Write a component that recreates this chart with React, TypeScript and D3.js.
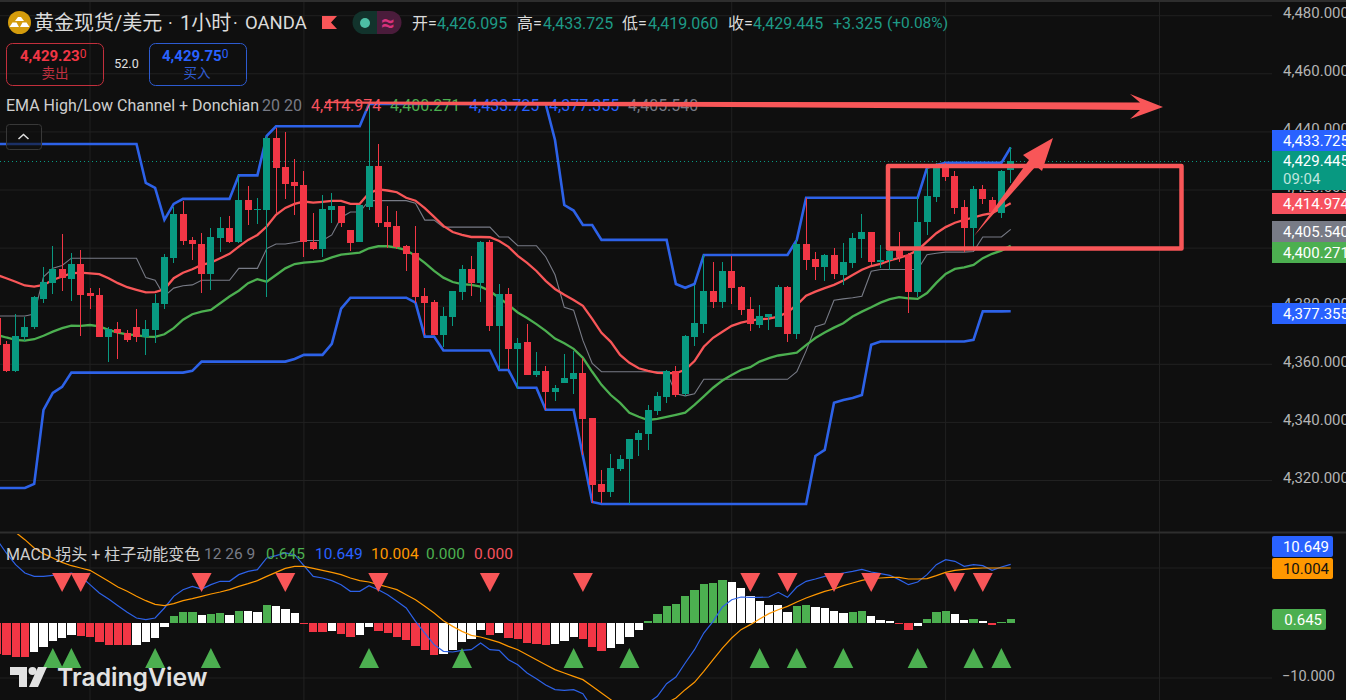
import React from 'react';
import * as d3 from 'd3';

// hourly gold candles, left to right
const open = [4375.0,4366.1,4356.8,4368.5,4371.9,4381.6,4387.1,4391.9,4388.5,4393.6,4383.6,4382.9,4368.5,4371.2,4369.9,4371.9,4368.5,4370.9,4379.9,4395.7,4410.8,4401.9,4400.5,4390.2,4402.6,4406.0,4401.2,4415.7,4412.2,4412.2,4437.0,4427.0,4421.9,4420.8,4401.2,4398.8,4412.2,4413.6,4405.3,4401.2,4413.2,4427.4,4408.1,4406.7,4399.8,4397.4,4382.6,4380.5,4369.2,4375.4,4384.0,4391.9,4387.1,4401.2,4372.3,4383.3,4364.4,4366.8,4355.4,4356.8,4349.6,4352.7,4354.0,4356.1,4340.6,4317.9,4315.2,4323.1,4326.5,4333.0,4335.1,4343.0,4347.9,4356.8,4348.9,4368.5,4373.0,4384.3,4380.5,4391.2,4385.7,4378.1,4372.6,4375.4,4371.9,4385.7,4369.5,4400.5,4395.4,4392.6,4396.7,4389.8,4394.0,4402.2,4404.6,4394.3,4395.0,4398.4,4396.7,4384.0,4408.1,4416.7,4426.7,4423.9,4413.2,4406.0,4419.4,4415.7,4411.2,4426.095];
const high = [4375.7,4367.1,4376.4,4375.4,4382.6,4392.6,4399.8,4403.9,4397.4,4398.4,4385.4,4385.4,4371.9,4373.7,4370.9,4378.1,4374.4,4383.3,4397.1,4413.2,4415.3,4402.9,4404.3,4406.0,4409.8,4410.2,4424.3,4420.5,4416.4,4437.7,4440.4,4439.1,4429.8,4425.6,4411.2,4417.4,4418.1,4413.6,4405.3,4413.9,4448.7,4434.9,4413.6,4411.9,4400.2,4406.7,4385.4,4381.2,4378.8,4384.3,4393.3,4396.4,4401.5,4401.9,4386.7,4385.4,4368.2,4373.0,4363.3,4358.5,4352.0,4362.6,4363.7,4361.3,4340.6,4322.7,4328.2,4327.9,4333.4,4336.5,4345.1,4349.6,4357.2,4358.5,4369.2,4386.4,4396.7,4394.3,4394.3,4396.4,4386.1,4382.3,4379.5,4376.4,4386.4,4386.1,4401.9,4416.4,4397.8,4397.1,4399.1,4400.9,4404.3,4410.8,4404.6,4400.2,4399.8,4404.6,4397.4,4416.7,4426.7,4428.4,4428.4,4425.6,4415.7,4420.5,4420.8,4416.7,4426.0,4433.725];
const low = [4365.7,4356.5,4356.5,4367.1,4371.2,4380.2,4383.3,4384.3,4380.9,4368.8,4378.1,4368.5,4359.9,4360.9,4366.8,4366.8,4362.3,4366.4,4378.1,4394.0,4400.2,4395.0,4383.6,4384.7,4397.8,4400.9,4400.9,4407.1,4407.4,4382.3,4411.2,4416.0,4410.5,4396.0,4398.5,4396.0,4407.7,4406.4,4398.1,4401.2,4412.2,4406.4,4399.1,4398.8,4391.2,4380.2,4369.2,4369.2,4365.1,4372.3,4381.2,4382.6,4380.5,4370.6,4357.1,4357.5,4350.6,4355.4,4354.7,4343.4,4346.5,4352.7,4348.9,4327.9,4311.4,4311.4,4313.4,4322.4,4311.0,4327.5,4329.6,4341.7,4345.8,4347.9,4348.2,4365.4,4369.9,4378.5,4378.5,4379.9,4376.1,4370.6,4371.6,4370.9,4371.9,4366.8,4367.8,4391.6,4388.1,4387.8,4388.5,4386.4,4392.3,4395.7,4393.3,4392.3,4391.6,4394.3,4376.8,4382.3,4403.6,4415.0,4422.2,4410.8,4397.8,4399.1,4414.3,4411.2,4409.5,4421.5];
const close = [4365.7,4356.8,4368.8,4371.9,4382.3,4387.4,4391.9,4388.8,4393.6,4382.9,4382.6,4368.5,4371.2,4369.9,4367.5,4368.5,4371.2,4380.2,4396.0,4410.8,4401.5,4400.5,4390.2,4402.9,4406.0,4401.2,4415.7,4412.2,4412.6,4437.0,4426.7,4421.2,4420.5,4401.2,4398.8,4412.6,4413.6,4407.7,4400.9,4413.9,4427.4,4407.7,4406.4,4399.5,4397.1,4382.3,4380.2,4369.2,4375.7,4384.3,4391.9,4387.1,4401.2,4372.3,4383.3,4364.4,4366.4,4355.4,4356.8,4349.6,4350.9,4354.4,4356.1,4340.3,4317.6,4315.2,4323.4,4326.5,4333.4,4335.5,4343.4,4348.2,4356.8,4348.5,4368.8,4373.3,4384.3,4380.5,4391.2,4385.4,4377.8,4373.0,4375.7,4376.4,4385.7,4369.5,4400.5,4395.0,4392.6,4396.7,4390.2,4394.3,4402.6,4404.6,4394.3,4395.0,4398.1,4396.0,4384.0,4408.1,4417.0,4426.7,4423.6,4412.9,4406.0,4419.4,4416.0,4411.5,4425.6,4428.9];

// EMA High/Low channel
const emaHigh = [4389.8,4388.7,4387.5,4386.2,4385.8,4386.4,4388.1,4389.3,4390.4,4390.6,4390.4,4390.1,4388.7,4387.0,4385.6,4384.7,4383.8,4383.9,4384.9,4388.7,4390.6,4391.8,4393.3,4394.1,4395.6,4397.1,4399.6,4401.9,4403.6,4406.5,4410.5,4412.9,4414.3,4415.1,4414.7,4415.0,4415.3,4415.3,4414.3,4414.3,4418.0,4419.3,4418.9,4418.3,4416.4,4415.4,4412.8,4409.8,4406.7,4404.6,4403.6,4402.9,4402.9,4402.8,4401.5,4399.5,4396.4,4394.0,4391.2,4387.8,4385.0,4383.0,4381.2,4379.2,4374.7,4369.9,4366.8,4362.3,4359.6,4357.7,4356.8,4356.1,4356.0,4356.0,4357.2,4360.2,4365.1,4368.2,4370.3,4372.3,4373.4,4374.1,4374.6,4374.8,4375.5,4377.0,4379.5,4382.7,4384.1,4385.3,4386.4,4387.9,4389.8,4391.6,4392.9,4393.6,4394.8,4395.7,4396.7,4398.4,4401.3,4404.2,4406.3,4407.8,4408.8,4409.6,4410.5,4411.1,4412.8,4414.5];
const emaLow = [4369.2,4368.3,4367.5,4367.2,4367.7,4368.9,4370.3,4371.5,4372.4,4372.3,4372.6,4372.1,4370.9,4370.0,4369.4,4369.1,4368.6,4368.5,4369.4,4371.5,4374.4,4376.3,4377.2,4377.8,4380.1,4382.4,4384.4,4387.0,4388.4,4387.5,4389.8,4392.1,4393.6,4394.1,4394.3,4394.7,4395.9,4396.8,4397.2,4397.5,4399.0,4399.7,4399.7,4399.2,4398.4,4396.4,4394.0,4391.2,4388.9,4387.4,4386.7,4386.4,4385.8,4384.3,4381.9,4379.5,4376.9,4375.0,4372.9,4370.6,4367.9,4366.3,4364.4,4361.3,4356.5,4352.0,4348.5,4345.8,4342.4,4341.0,4339.9,4340.3,4341.0,4341.7,4342.4,4345.1,4348.0,4351.0,4353.5,4355.4,4357.1,4358.1,4360.0,4361.2,4362.1,4362.6,4363.1,4365.7,4368.1,4370.0,4371.7,4373.2,4375.5,4377.2,4378.7,4380.3,4381.5,4382.2,4381.8,4381.6,4383.6,4387.1,4390.2,4391.9,4392.4,4393.3,4395.6,4397.1,4398.2,4399.9];

// Donchian channel
const donchianUpper = [4434.9,4434.9,4434.9,4434.9,4434.9,4434.9,4434.9,4434.9,4434.9,4434.9,4434.9,4434.9,4434.9,4434.9,4434.9,4434.9,4421.5,4419.8,4408.8,4414.3,4416.0,4416.0,4416.0,4416.0,4416.0,4416.0,4424.1,4424.1,4424.1,4437.7,4441.0,4441.0,4441.0,4441.0,4441.0,4441.0,4441.0,4441.0,4441.0,4441.0,4448.7,4448.7,4448.7,4448.7,4448.7,4448.7,4448.7,4448.7,4448.7,4448.7,4448.7,4448.7,4448.7,4448.7,4448.7,4448.7,4448.7,4448.7,4448.7,4448.7,4436.3,4413.9,4412.0,4407.0,4407.0,4401.9,4401.9,4401.9,4401.9,4401.9,4401.9,4401.9,4401.9,4386.7,4385.4,4386.7,4396.7,4396.7,4396.7,4396.7,4396.7,4396.7,4396.7,4396.7,4396.7,4396.7,4401.9,4416.4,4416.4,4416.4,4416.4,4416.4,4416.4,4416.4,4416.4,4416.4,4416.4,4416.4,4416.4,4416.4,4426.7,4427.7,4428.4,4428.4,4428.4,4428.4,4428.4,4428.4,4428.4,4433.725];
const donchianLower = [4316.5,4316.5,4316.5,4316.5,4317.9,4343.4,4349.2,4351.3,4356.2,4356.2,4356.2,4356.2,4356.2,4356.2,4356.2,4356.2,4356.2,4356.2,4356.2,4356.2,4356.2,4356.8,4360.0,4360.0,4360.0,4360.0,4360.0,4360.0,4360.0,4360.0,4360.0,4360.0,4360.9,4362.3,4362.3,4362.3,4366.1,4378.2,4382.0,4382.0,4382.0,4382.0,4382.0,4382.0,4382.0,4380.3,4368.6,4368.6,4363.8,4363.8,4363.8,4363.8,4363.8,4363.8,4357.1,4357.1,4351.0,4351.0,4351.0,4343.4,4343.4,4343.4,4343.4,4327.5,4311.7,4311.0,4311.0,4311.0,4311.0,4311.0,4311.0,4311.0,4311.0,4311.0,4311.0,4311.0,4311.0,4311.0,4311.0,4311.0,4311.0,4311.0,4311.0,4311.0,4311.0,4311.0,4311.0,4311.0,4327.5,4329.6,4345.8,4346.8,4347.5,4348.5,4365.8,4366.9,4366.9,4366.9,4366.9,4366.9,4366.9,4366.9,4366.9,4366.9,4366.9,4367.5,4377.3,4377.3,4377.3,4377.355];
const donchianMid = [4375.7,4375.7,4375.7,4375.7,4376.4,4389.2,4392.1,4393.1,4395.6,4395.6,4395.6,4395.6,4395.6,4395.6,4395.6,4395.6,4388.9,4388.0,4382.5,4385.3,4386.1,4386.4,4388.0,4388.0,4388.0,4388.0,4392.1,4392.1,4392.1,4398.9,4400.5,4400.5,4401.0,4401.7,4401.7,4401.7,4403.6,4409.6,4411.5,4411.5,4415.4,4415.4,4415.4,4415.4,4415.4,4414.5,4408.7,4408.7,4406.3,4406.3,4406.3,4406.3,4406.3,4406.3,4402.9,4402.9,4399.9,4399.9,4399.9,4396.1,4389.9,4378.7,4377.7,4367.3,4359.4,4356.5,4356.5,4356.5,4356.5,4356.5,4356.5,4356.5,4356.5,4348.9,4348.2,4348.9,4353.9,4353.9,4353.9,4353.9,4353.9,4353.9,4353.9,4353.9,4353.9,4353.9,4356.5,4363.7,4372.0,4373.0,4381.1,4381.6,4382.0,4382.5,4391.1,4391.7,4391.7,4391.7,4391.7,4391.7,4396.8,4397.3,4397.7,4397.7,4397.7,4397.9,4402.9,4402.9,4402.9,4405.54];

// MACD pane
const macdLine = [15.15,12.73,10.61,9.09,8.48,8.48,8.67,8.79,9.09,8.48,6.97,5.45,4.36,3.15,1.94,0.91,0.61,0.91,2.73,4.85,6.06,6.67,6.18,6.97,7.58,7.58,8.79,9.39,9.70,11.82,12.24,12.73,12.42,10.42,8.48,8.18,7.70,6.97,5.76,5.76,6.79,6.06,5.15,3.94,2.73,0.30,-1.82,-3.94,-5.15,-5.27,-4.97,-4.85,-3.64,-4.85,-4.97,-6.67,-7.58,-9.09,-10.12,-11.27,-12.12,-12.24,-12.12,-12.85,-15.45,-16.97,-18.18,-18.79,-17.88,-16.06,-14.55,-13.33,-11.03,-9.82,-7.27,-4.85,-1.82,0.30,2.91,4.24,4.73,4.67,4.67,4.73,5.58,4.67,6.55,7.58,8.0,8.48,8.79,9.09,9.39,9.76,9.27,8.97,8.67,7.88,6.97,7.45,8.79,10.61,11.52,11.21,10.30,10.61,10.42,9.58,10.18,10.649];
const signalLine = [18.18,17.27,16.48,15.15,13.64,12.61,11.82,11.03,10.42,10.0,9.58,8.61,7.58,6.55,5.76,4.85,4.06,3.39,3.15,3.52,4.06,4.42,4.85,5.27,5.64,6.06,6.67,7.15,7.70,8.48,9.21,9.94,10.30,10.30,9.94,9.58,9.21,8.79,8.18,7.70,7.45,6.97,6.55,6.06,5.15,4.24,3.03,1.82,0.42,-0.61,-1.52,-2.24,-2.55,-3.03,-3.52,-4.24,-4.85,-5.76,-6.67,-7.58,-8.48,-9.09,-9.70,-10.30,-11.52,-12.73,-13.94,-15.15,-16.06,-16.36,-16.06,-15.45,-14.55,-13.64,-12.12,-10.79,-8.79,-6.67,-4.55,-2.73,-1.21,-0.30,0.73,1.70,2.42,3.03,3.82,4.55,5.15,5.76,6.18,6.79,7.27,7.76,8.06,8.18,8.30,8.30,8.0,8.0,8.06,8.61,9.21,9.58,9.76,9.94,10.0,10.0,10.0,10.004];
const histogram = [-5.7,-5.76,-6.24,-6.25,-5.33,-4.42,-3.33,-2.79,-2.12,-2.42,-2.61,-3.52,-3.94,-4.06,-4.07,-3.94,-3.52,-2.67,-0.79,1.33,2.0,2.06,1.52,1.70,1.88,1.52,2.24,2.2,2.06,3.33,3.15,2.61,1.88,-0.18,-1.58,-1.6,-1.52,-1.94,-2.48,-2.12,-0.79,-1.39,-1.76,-2.48,-3.03,-4.12,-4.85,-5.76,-5.58,-4.85,-3.52,-2.85,-1.21,-2.12,-1.76,-2.67,-2.85,-3.58,-3.76,-3.94,-3.76,-3.21,-2.48,-2.85,-4.30,-5.03,-4.48,-3.76,-2.48,-1.21,0.42,1.70,3.15,3.52,4.97,6.06,7.15,7.33,7.88,7.52,6.42,4.97,4.06,3.33,3.27,2.06,3.15,3.21,2.97,2.79,2.24,1.88,2.06,2.12,1.33,0.61,0.42,-0.06,-1.21,-0.48,0.79,2.06,2.24,1.70,0.61,0.79,0.42,-0.36,0.24,0.645];
const sellSignals = [7,9,22,31,41,53,63,81,85,90,94,103,106];
const buySignals = [6,8,17,23,40,50,62,68,82,86,91,99,105,108];

const priceTicks = [4480,4460,4440,4420,4400,4380,4360,4340,4320];
const macdTicks = [10,-10];
const timeGridBars = [10,33,56,79,102,125];

const titleParts = [
  {text: '黄金现货/美元', x: 34, size: 20},
  {text: '·', x: 168, size: 18},
  {text: '1小时', x: 180, size: 20},
  {text: '·', x: 233, size: 18},
  {text: 'OANDA', x: 245, size: 18.5},
];
const quote = [
  {key: '开=', value: '4,426.095', keyX: 412, valueX: 437},
  {key: '高=', value: '4,433.725', keyX: 517, valueX: 543},
  {key: '低=', value: '4,419.060', keyX: 622, valueX: 648},
  {key: '收=', value: '4,429.445', keyX: 728, valueX: 753},
];
const channelLegend = [
  {text: '4,414.974', x: 311, color: '#F7525F'},
  {text: '4,400.271', x: 390, color: '#4CAF50'},
  {text: '4,433.725', x: 469, color: '#2962FF'},
  {text: '4,377.355', x: 549, color: '#2962FF'},
  {text: '4,405.540', x: 628, color: '#787B86'},
];
const macdLegend = [
  {text: '0.645', x: 266, color: '#4CAF50'},
  {text: '10.649', x: 315, color: '#2962FF'},
  {text: '10.004', x: 371, color: '#FF9800'},
  {text: '0.000', x: 426, color: '#4CAF50'},
  {text: '0.000', x: 474, color: '#F7525F'},
];
// labels are pushed apart on the scale, so their boxes sit at their own spots
const priceTags = [
  {text: '4,433.725', top: 130, h: 21, fill: '#2962FF'},
  {text: '4,414.974', top: 193, h: 21, fill: '#F7525F'},
  {text: '4,405.540', top: 221, h: 21, fill: '#787B86'},
  {text: '4,400.271', top: 242, h: 21, fill: '#4CAF50'},
  {text: '4,377.355', top: 303, h: 21, fill: '#2962FF'},
];

const UP = '#089981';
const DOWN = '#F23645';
const DRAWING = '#F85658';
const GRID = '#212121';
const FONT = 'Roboto, "Noto Sans CJK SC", sans-serif';
const gridDrop = 2.7;

const x = d3.scaleLinear().domain([0, 109]).range([-3, 1010.7]);
const priceY = d3.scaleLinear().domain([4480, 4320]).range([13, 477.8]);
const macdY = d3.scaleLinear().domain([10, -10]).range([568, 678]);

const priceLine = d3.line<number>().x((_, i) => x(i)).y(d => priceY(d));
const macdPath = d3.line<number>().x((_, i) => x(i)).y(d => macdY(d));
const fmt = d3.format(',.3f');

const histColor = (v: number, i: number) => {
  const prev = i > 0 ? histogram[i - 1] : 0;
  if (v >= 0) return v > prev ? '#4CAF50' : '#FFFFFF';
  return v < prev ? DOWN : '#FFFFFF';
};

const App = () => (
  <svg
    width={1346}
    height={700}
    style={{position: 'fixed', left: 0, top: 0, background: '#0F0F0F', fontFamily: FONT}}>
    <defs>
      <clipPath id="mainPane"><rect x={0} y={2} width={1272} height={530} /></clipPath>
      <clipPath id="macdPane"><rect x={0} y={534} width={1272} height={166} /></clipPath>
    </defs>

    {/* grid */}
    {priceTicks.map(t => (
      <line key={t} x1={0} x2={1272} y1={priceY(t) + gridDrop} y2={priceY(t) + gridDrop} stroke={GRID} />
    ))}
    {macdTicks.map(t => (
      <line key={t} x1={0} x2={1272} y1={macdY(t)} y2={macdY(t)} stroke={GRID} />
    ))}
    {timeGridBars.map(b => (
      <line key={b} x1={x(b)} x2={x(b)} y1={2} y2={700} stroke={GRID} />
    ))}
    <rect x={0} y={0} width={1346} height={2} fill="#2E2E2E" />
    <rect x={0} y={531.5} width={1346} height={2} fill="#2E2E2E" />

    {/* last price */}
    <line x1={0} x2={1272} y1={161.5} y2={161.5} stroke={UP} strokeDasharray="1 3" />

    <g clipPath="url(#mainPane)" fill="none">
      <path d={priceLine(donchianMid)!} stroke="#787B86" strokeWidth={1.1} />
      <path d={priceLine(donchianUpper)!} stroke="#2D62E8" strokeWidth={2.6} />
      <path d={priceLine(donchianLower)!} stroke="#2D62E8" strokeWidth={2.6} />
      <path d={priceLine(emaHigh)!} stroke={DRAWING} strokeWidth={2.3} />
      <path d={priceLine(emaLow)!} stroke="#4CAF50" strokeWidth={2.3} />
    </g>

    <g clipPath="url(#mainPane)">
      {open.map((o, i) => {
        const color = close[i] >= o ? UP : DOWN;
        const cx = Math.floor(x(i));
        const top = priceY(Math.max(o, close[i]));
        const bottom = priceY(Math.min(o, close[i]));
        return (
          <g key={i} fill={color} shapeRendering="crispEdges">
            <rect x={cx} y={priceY(high[i])} width={1} height={priceY(low[i]) - priceY(high[i])} />
            <rect x={cx - 3} y={top} width={7} height={Math.max(bottom - top, 1)} />
          </g>
        );
      })}
    </g>

    {/* MACD pane */}
    <g clipPath="url(#macdPane)">
      {histogram.map((v, i) => {
        const left = Math.round(x(i) - 4.1);
        const next = Math.round(x(i + 1) - 4.1);
        return (
          <rect
            key={i}
            x={left}
            y={Math.min(macdY(v), macdY(0))}
            width={next - left - 1}
            height={Math.max(Math.abs(macdY(v) - macdY(0)), 0.8)}
            fill={histColor(v, i)}
            shapeRendering="crispEdges"
          />
        );
      })}
      <path d={macdPath(macdLine)!} fill="none" stroke="#2D62E8" strokeWidth={1.2} />
      <path d={macdPath(signalLine)!} fill="none" stroke="#FF9800" strokeWidth={1.2} />
      {sellSignals.map(b => (
        <path key={b} transform={`translate(${x(b)},573)`} d="M-10,0 L10,0 L0,19 Z" fill={DRAWING} />
      ))}
      {buySignals.map(b => (
        <path key={b} transform={`translate(${x(b)},648)`} d="M-10,20 L10,20 L0,0 Z" fill="#4CAF50" />
      ))}
    </g>

    {/* price scale */}
    <g fontSize={15} fill="#B4B4B4">
      {priceTicks.map(t => (
        <text key={t} x={1283} y={priceY(t)} dominantBaseline="central">{fmt(t)}</text>
      ))}
      {macdTicks.filter(t => t < 0).map(t => (
        <text key={t} x={1282} y={macdY(t) - 2} fontSize={14.5} dominantBaseline="central">{fmt(t).replace('-', '−')}</text>
      ))}
    </g>
    {priceTags.map(tag => (
      <g key={tag.text}>
        <rect x={1272} y={tag.top} width={74} height={tag.h} fill={tag.fill} />
        <text x={1283} y={tag.top + tag.h / 2} fontSize={15} fill="#FFFFFF" dominantBaseline="central">{tag.text}</text>
      </g>
    ))}
    <rect x={1272} y={151} width={74} height={39} fill={UP} />
    <text x={1283} y={161} fontSize={15} fill="#FFFFFF" dominantBaseline="central">4,429.445</text>
    <text x={1283} y={179} fontSize={15} fill="#BFE6DE" dominantBaseline="central">09:04</text>

    <rect x={1272} y={536} width={61} height={21} rx={2} fill="#2962FF" />
    <text x={1329} y={546.5} fontSize={15} fill="#FFFFFF" textAnchor="end" dominantBaseline="central">10.649</text>
    <rect x={1272} y={558} width={61} height={21} rx={2} fill="#FF9800" />
    <text x={1329} y={568.5} fontSize={15} fill="#111111" textAnchor="end" dominantBaseline="central">10.004</text>
    <rect x={1272} y={609} width={54} height={21} rx={2} fill="#4CAF50" />
    <text x={1322} y={619.5} fontSize={15} fill="#FFFFFF" textAnchor="end" dominantBaseline="central">0.645</text>

    {/* symbol header */}
    <circle cx={19.5} cy={22.5} r={11.5} fill="#D49C0C" />
    <path d="M15,21 L18,17 L21,17 L24,21 Z M9.5,27 L12.5,22.5 L16.5,22.5 L19,27 Z M20,27 L22.5,22.5 L26.5,22.5 L29.5,27 Z" fill="#FFFFFF" />
    {titleParts.map(part => (
      <text key={part.x} x={part.x} y={23} fontSize={part.size} fill="#DBDBDB" dominantBaseline="central">{part.text}</text>
    ))}
    <path d="M322,16 L337,16 L331,22.5 L337,29 L322,29 Z" fill={DRAWING} />
    <path d="M364,11 L377,11 L377,34 L364,34 A11.5,11.5 0 0 1 364,11 Z" fill="#12332C" />
    <path d="M377,11 L390,11 A11.5,11.5 0 0 1 390,34 L377,34 Z" fill="#4A1C3B" />
    <circle cx={365} cy={23} r={5} fill="#4DBFA5" />
    <text x={388} y={23} fontSize={24} fontWeight={700} fill="#D8327C" textAnchor="middle" dominantBaseline="central">≈</text>
    {quote.map(q => (
      <g key={q.key} fontSize={16} dominantBaseline="central">
        <text x={q.keyX} y={23} fill="#DBDBDB" dominantBaseline="central">{q.key}</text>
        <text x={q.valueX} y={23} fill="#1E9A86" dominantBaseline="central">{q.value}</text>
      </g>
    ))}
    <text x={833} y={23} fontSize={16} fill="#1E9A86" dominantBaseline="central">+3.325</text>
    <text x={887} y={23} fontSize={15.5} fill="#1E9A86" dominantBaseline="central">(+0.08%)</text>

    {/* sell and buy boxes */}
    <rect x={6.5} y={43.5} width={97} height={42} rx={6} fill="none" stroke="#C22F3C" />
    <text x={20} y={56} fontSize={15} fontWeight={700} fill={DOWN} dominantBaseline="central">4,429.23<tspan fontSize={12} fontWeight={400} dy={-2}>0</tspan></text>
    <text x={55} y={73} fontSize={13.5} fill="#C03040" textAnchor="middle" dominantBaseline="central">卖出</text>
    <text x={126.5} y={63} fontSize={12.5} fill="#E0E0E0" textAnchor="middle" dominantBaseline="central">52.0</text>
    <rect x={149.5} y={43.5} width={97} height={42} rx={6} fill="none" stroke="#2D5BD0" />
    <text x={162} y={56} fontSize={15} fontWeight={700} fill="#2962FF" dominantBaseline="central">4,429.75<tspan fontSize={12} fontWeight={400} dy={-2}>0</tspan></text>
    <text x={197} y={73} fontSize={13.5} fill="#2F5BD0" textAnchor="middle" dominantBaseline="central">买入</text>

    {/* indicator legends */}
    <text x={6} y={105} fontSize={16} fill="#CFCFCF" dominantBaseline="central">EMA High/Low Channel + Donchian</text>
    <text x={262} y={105} fontSize={16} fill="#787B86" dominantBaseline="central">20 20</text>
    {channelLegend.map(item => (
      <text key={item.x} x={item.x} y={105} fontSize={16} fill={item.color} dominantBaseline="central">{item.text}</text>
    ))}

    <rect x={6.5} y={124.5} width={35} height={25} rx={3} fill="#0F0F0F" fillOpacity={0.6} stroke="#383838" />
    <path d="M18.5,139 L23.5,134.5 L28.5,139" fill="none" stroke="#E0E0E0" strokeWidth={1.5} />

    <text x={6} y={554} fontSize={16} fill="#CFCFCF" dominantBaseline="central">MACD 拐头 + 柱子动能变色</text>
    <text x={204} y={554} fontSize={15.5} fill="#787B86" dominantBaseline="central">12 26 9</text>
    {macdLegend.map(item => (
      <text key={item.x} x={item.x} y={554} fontSize={15.5} fill={item.color} dominantBaseline="central">{item.text}</text>
    ))}

    {/* hand drawn box and arrows */}
    <rect x={888} y={166} width={293.5} height={82.5} fill="none" stroke={DRAWING} strokeWidth={4.5} strokeLinejoin="round" />
    <path d="M325,101.5 L1140,102.5 L1130,94 L1163,107 L1130,119 L1140,110 L880,108 L430,105 L325,103 Z" fill={DRAWING} />
    <path d="M974,236 L1029,160 L1023,155 L1053,138 L1042,171 L1036,166 Z" fill={DRAWING} />

    {/* watermark */}
    <g fill="#E2E2E2">
      <path d="M10,667 L27,667 L27,687 L19,687 L19,675 L10,675 Z" />
      <circle cx={32.5} cy={671} r={4} />
      <path d="M38,667 L47,667 L38,687 L29,687 Z" />
      <text x={57} y={677} fontSize={24.7} fontWeight={600} fontFamily="Inter, Roboto, sans-serif" dominantBaseline="central">TradingView</text>
    </g>
  </svg>
);

export default App;
